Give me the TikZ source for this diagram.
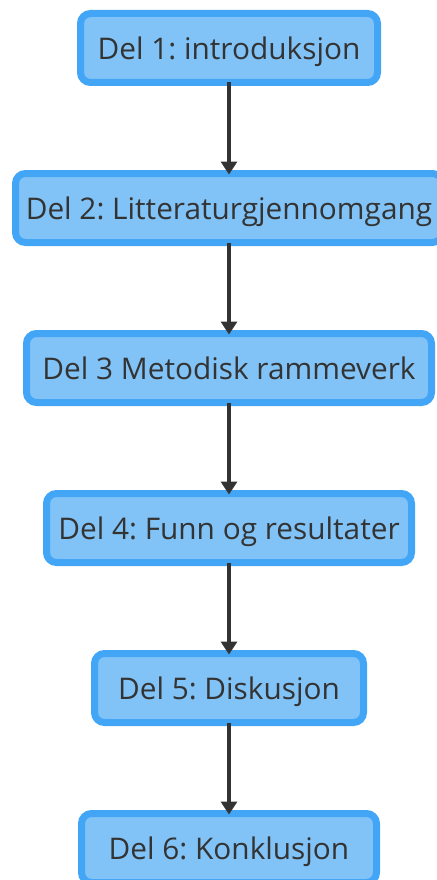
\documentclass[tikz,border=0pt]{standalone}
\usepackage{fontspec}
\setmainfont{Open Sans}
\frenchspacing
\usetikzlibrary{arrows.meta}
\definecolor{boxborder}{HTML}{42A5F5}
\definecolor{boxfill}{HTML}{81C3F6}
\definecolor{txt}{HTML}{333333}
\definecolor{arr}{HTML}{333333}
\tikzset{
  stagebox/.style={draw=boxborder, fill=boxfill, line width=7pt, rounded corners=10pt,
    minimum height=69pt, inner sep=0pt, text height=27pt, text depth=4pt,
    text=txt, font=\fontsize{29.8}{34}\selectfont, anchor=center},
  flow/.style={draw=arr, line width=3.5pt, -{Triangle[width=16pt,length=13pt]}, shorten >=-1pt}
}
\begin{document}
\begin{tikzpicture}[x=1pt,y=-1pt]
\useasboundingbox (0,0) rectangle (436,880);
\node[stagebox, minimum width=297pt] (d1) at (229,48) {Del 1: introduksjon};
\node[stagebox, minimum width=427pt] (d2) at (229,208) {Del 2: Litteraturgjennomgang};
\node[stagebox, minimum width=405pt] (d3) at (229,368) {Del 3 Metodisk rammeverk};
\node[stagebox, minimum width=365pt] (d4) at (229,528) {Del 4: Funn og resultater};
\node[stagebox, minimum width=269pt] (d5) at (229,688) {Del 5: Diskusjon};
\node[stagebox, minimum width=295pt] (d6) at (229,848) {Del 6: Konklusjon};
\draw[flow] ([yshift=3.5pt]d1.south) -- ([yshift=-3.5pt]d2.north);
\draw[flow] ([yshift=3.5pt]d2.south) -- ([yshift=-3.5pt]d3.north);
\draw[flow] ([yshift=3.5pt]d3.south) -- ([yshift=-3.5pt]d4.north);
\draw[flow] ([yshift=3.5pt]d4.south) -- ([yshift=-3.5pt]d5.north);
\draw[flow] ([yshift=3.5pt]d5.south) -- ([yshift=-3.5pt]d6.north);
\end{tikzpicture}
\end{document}
